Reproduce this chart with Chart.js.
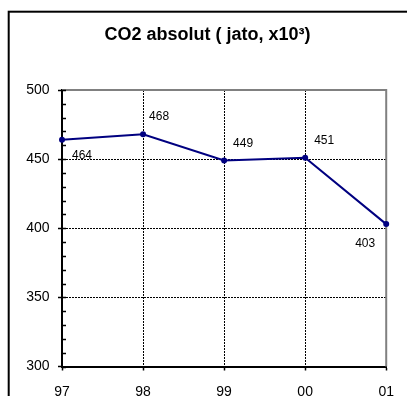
<!DOCTYPE html>
<html>
<head>
<meta charset="utf-8">
<script src="https://cdn.jsdelivr.net/npm/chart.js@4.4.1/dist/chart.umd.min.js"></script>
<style>
  html, body { margin: 0; padding: 0; overflow: hidden; background: #fff; }
  canvas { display: block; }
</style>
</head>
<body>
<canvas id="chart" width="407" height="420"></canvas>
<script>
// Yearly CO2 totals (tonnes per year, x1000)
const years = ['97', '98', '99', '00', '01'];
const co2 = [464, 468, 449, 451, 403];
const yMin = 300;
const yMax = 500;
const yMajorStep = 50;
const yMinorStep = 10;
const chartTitle = 'CO2 absolut ( jato, x10\u00B3)';

const FONT = "'Liberation Sans', Arial, sans-serif";

// Outer frame plus the grey top/right edges of the plot area
const framePlugin = {
  id: 'frame',
  beforeDraw(chart) {
    const { ctx } = chart;
    ctx.save();
    ctx.fillStyle = '#fff';
    ctx.fillRect(0, 0, chart.width, chart.height);
    ctx.strokeStyle = '#000';
    ctx.lineWidth = 2;
    ctx.strokeRect(8.7, 11.7, chart.width + 20, chart.height + 20);
    ctx.restore();
  },
  beforeDatasetsDraw(chart) {
    const { ctx, chartArea: a } = chart;
    ctx.save();
    ctx.strokeStyle = '#808080';
    ctx.lineWidth = 2;
    ctx.beginPath();
    ctx.moveTo(a.left, a.top);
    ctx.lineTo(a.right, a.top);
    ctx.lineTo(a.right, a.bottom);
    ctx.stroke();
    ctx.restore();
  }
};

// Small inward ticks on the value axis, one every yMinorStep
const minorTickPlugin = {
  id: 'minorTicks',
  afterDatasetsDraw(chart) {
    const { ctx, chartArea: a } = chart;
    const y = chart.scales.y;
    ctx.save();
    ctx.strokeStyle = '#000';
    ctx.lineWidth = 1.5;
    ctx.beginPath();
    for (let v = yMin; v <= yMax; v += yMinorStep) {
      const py = Math.round(y.getPixelForValue(v)) + 0.5;
      ctx.moveTo(a.left, py);
      ctx.lineTo(a.left + 4, py);
    }
    ctx.stroke();
    ctx.restore();
  }
};

// Value labels next to each point
const valueLabelPlugin = {
  id: 'valueLabels',
  afterDatasetsDraw(chart, args, opts) {
    const { ctx } = chart;
    const meta = chart.getDatasetMeta(0);
    const data = chart.data.datasets[0].data;
    ctx.save();
    ctx.font = '12px ' + FONT;
    ctx.fillStyle = '#000';
    ctx.textBaseline = 'middle';
    meta.data.forEach((pt, i) => {
      const [dx, dy, align] = opts.placement[i];
      ctx.textAlign = align;
      ctx.fillText(String(data[i]), pt.x + dx, pt.y + dy);
    });
    ctx.restore();
  }
};

new Chart(document.getElementById('chart'), {
  type: 'line',
  data: {
    labels: years,
    datasets: [{
      data: co2,
      borderColor: '#000080',
      backgroundColor: '#000080',
      borderWidth: 2,
      tension: 0,
      pointRadius: 3,
      pointBorderWidth: 0,
      pointBackgroundColor: '#000080',
      clip: false
    }]
  },
  options: {
    responsive: false,
    animation: false,
    events: [],
    layout: { padding: { left: 24, right: 16, top: 0, bottom: 19.5 } },
    plugins: {
      legend: { display: false },
      tooltip: { enabled: false },
      title: {
        display: true,
        text: chartTitle,
        color: '#000',
        font: { family: FONT, size: 18, weight: 'bold', lineHeight: 1.2 },
        padding: { top: 24.5, bottom: 43.9 }
      },
      valueLabels: {
        placement: [[10, 16, 'left'], [6, -18, 'left'], [9, -17, 'left'], [9, -17, 'left'], [-11, 20, 'right']]
      }
    },
    scales: {
      x: {
        type: 'category',
        offset: false,
        afterFit(s) { s.height = 34; },
        grid: {
          offset: false,
          color: (c) => (c.index === 0 || c.index === years.length - 1) ? 'rgba(0,0,0,0)' : '#000',
          lineWidth: 1,
          tickColor: '#000',
          tickWidth: 1.5,
          tickLength: 4
        },
        border: { display: true, color: '#000', width: 2, dash: [2, 1] },
        ticks: {
          color: '#000',
          font: { family: FONT, size: 14 },
          padding: 13,
          maxRotation: 0,
          autoSkip: false
        }
      },
      y: {
        min: yMin,
        max: yMax,
        afterFit(s) { s.width = 38; },
        grid: {
          color: (c) => (c.tick && (c.tick.value === yMin || c.tick.value === yMax)) ? 'rgba(0,0,0,0)' : '#000',
          lineWidth: 1,
          tickColor: '#000',
          tickWidth: 1.5,
          tickLength: 4
        },
        border: { display: true, color: '#000', width: 2, dash: [2, 1] },
        ticks: {
          stepSize: yMajorStep,
          color: '#000',
          font: { family: FONT, size: 14 },
          padding: 8.5
        }
      }
    }
  },
  plugins: [framePlugin, minorTickPlugin, valueLabelPlugin]
});
</script>
</body>
</html>
